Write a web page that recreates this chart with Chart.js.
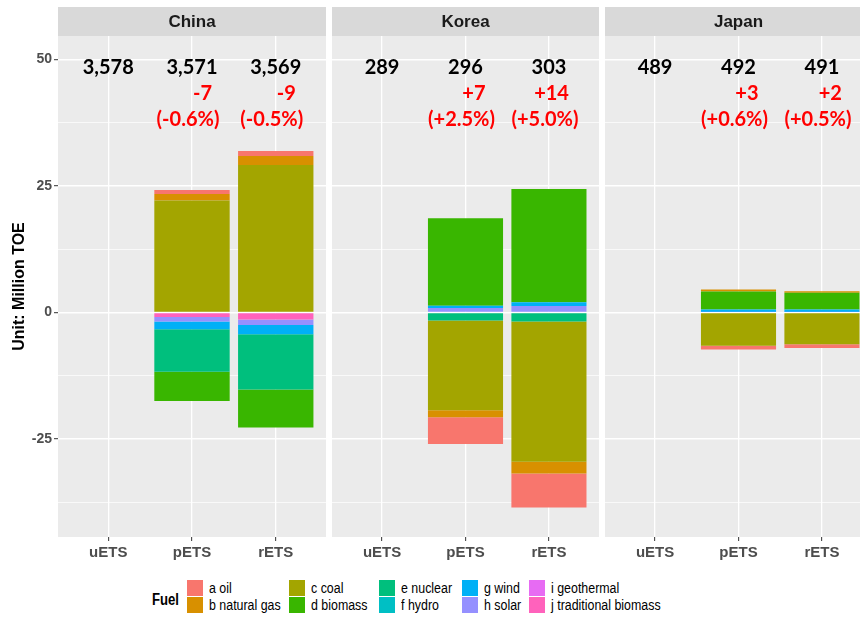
<!DOCTYPE html>
<html>
<head>
<meta charset="utf-8">
<script src="https://cdn.jsdelivr.net/npm/chart.js@4.4.1/dist/chart.umd.min.js"></script>
<style>
  html, body { margin: 0; padding: 0; background: #fff; overflow: hidden; }
  #wrap { position: relative; width: 860px; height: 620px; overflow: hidden;
          font-family: 'Liberation Sans', Arial, sans-serif; }
  .panel { position: absolute; top: 0; height: 575px; }
  #fuelTitle { position: absolute; left: 152px; top: 590px; font-weight: bold; font-size: 16px;
               transform: scaleX(0.82); transform-origin: left center; line-height: 20px; }
  #legend { position: absolute; left: 187px; top: 580px; display: grid;
            grid-template-columns: 102px 90px 83px 67px auto;
            grid-template-rows: 16.6px 16.6px; grid-auto-flow: column; row-gap: 0.2px; }
  .item { display: flex; align-items: center; height: 16.6px; white-space: nowrap; }
  .key { width: 16px; height: 16px; flex: none; }
  .lab { margin-left: 6px; font-size: 15.5px; color: #000; transform: scaleX(0.8);
         transform-origin: left center; line-height: 16px; }
</style>
</head>
<body>
<div id="wrap">
  <div class="panel" style="left:0;width:327px"><canvas id="c0"></canvas></div>
  <div class="panel" style="left:332px;width:267px"><canvas id="c1"></canvas></div>
  <div class="panel" style="left:605px;width:267px"><canvas id="c2"></canvas></div>
  <div id="fuelTitle">Fuel</div>
  <div id="legend"></div>
</div>
<script>
// facets and x categories
const regions = ['China', 'Korea', 'Japan'];
const scenarios = ['uETS', 'pETS', 'rETS'];

const fuels = ['a oil', 'b natural gas', 'c coal', 'd biomass', 'e nuclear',
               'f hydro', 'g wind', 'h solar', 'i geothermal', 'j traditional biomass'];
const fuelColors = ['#F8766D', '#D89000', '#A3A500', '#39B600', '#00BF7D',
                    '#00BFC4', '#00B0F6', '#9590FF', '#E76BF3', '#FF62BC'];

// change by fuel (Million TOE), one row per fuel, columns uETS / pETS / rETS
const chinaChange = [
  [0, 0.8, 1.0],
  [0, 1.3, 1.8],
  [0, 22.1, 29.1],
  [0, -5.8, -7.5],
  [0, -8.4, -10.9],
  [0, 0, 0],
  [0, -1.5, -1.8],
  [0, -0.9, -1.1],
  [0, 0, 0],
  [0, -0.9, -1.4]
];
const koreaChange = [
  [0, -5.3, -6.7],
  [0, -1.4, -2.3],
  [0, -17.7, -27.7],
  [0, 17.3, 22.4],
  [0, -1.6, -1.8],
  [0, 0, 0],
  [0, 0.4, 0.75],
  [0, 0.9, 1.25],
  [0, 0, 0],
  [0, 0, 0]
];
const japanChange = [
  [0, -0.7, -0.7],
  [0, 0.4, 0.3],
  [0, -6.6, -6.3],
  [0, 3.55, 3.3],
  [0, 0, 0],
  [0, 0, 0],
  [0, 0.5, 0.5],
  [0, 0.1, 0.1],
  [0, 0, 0],
  [0, 0, 0]
];

// totals and differences printed on top of each facet
const chinaTotal = [3578, 3571, 3569];
const koreaTotal = [289, 296, 303];
const japanTotal = [489, 492, 491];
const chinaDiff = [null, -7, -9];
const koreaDiff = [null, 7, 14];
const japanDiff = [null, 3, 2];
const chinaPct = [null, -0.6, -0.5];
const koreaPct = [null, 2.5, 5.0];
const japanPct = [null, 0.6, 0.5];

const yTicks = [-37.5, -25, -12.5, 0, 12.5, 25, 37.5, 50];

const changes = [chinaChange, koreaChange, japanChange];
const totals = [chinaTotal, koreaTotal, japanTotal];
const diffs = [chinaDiff, koreaDiff, japanDiff];
const pcts = [chinaPct, koreaPct, japanPct];

const signed = v => (v > 0 ? '+' : '') + v;
const fmtPct = v => '(' + (v > 0 ? '+' : '') + v.toFixed(1) + '%)';
const isMajor = v => v % 25 === 0;
const FONT = '"Liberation Sans", Arial, sans-serif';

function makeChart(k) {
  const rows = changes[k];
  // ggplot puts the last level next to zero, Chart.js stacks the first dataset there
  const datasets = fuels.map((f, i) => ({
    label: f,
    data: rows[i].map((v, j) => ({ x: j + 1, y: v })),
    backgroundColor: fuelColors[i],
    borderWidth: 0,
    categoryPercentage: 1,
    barPercentage: 0.9
  })).reverse();

  // grey panel + facet strip
  const panelBg = {
    id: 'panelBg',
    beforeDraw(chart) {
      const { ctx, chartArea: a } = chart;
      ctx.save();
      ctx.fillStyle = '#EBEBEB';
      ctx.fillRect(a.left, a.top, a.right - a.left, a.bottom - a.top);
      ctx.fillStyle = '#D9D9D9';
      ctx.fillRect(a.left, 7, a.right - a.left, a.top - 7);
      ctx.fillStyle = '#1A1A1A';
      ctx.font = 'bold 17px ' + FONT;
      ctx.textAlign = 'center';
      ctx.textBaseline = 'middle';
      ctx.fillText(regions[k], (a.left + a.right) / 2, (7 + a.top) / 2 + 1);
      ctx.restore();
    }
  };

  const labels = {
    id: 'labels',
    afterDatasetsDraw(chart) {
      const { ctx, scales: { x, y } } = chart;
      ctx.save();
      ctx.font = 'bold 20px Lato, "Open Sans", sans-serif';
      ctx.textBaseline = 'middle';
      scenarios.forEach((s, j) => {
        const cx = x.getPixelForValue(j + 1);
        ctx.fillStyle = '#000';
        ctx.textAlign = 'center';
        ctx.fillText(totals[k][j].toLocaleString('en-US'), cx, y.getPixelForValue(48.4));
        if (diffs[k][j] === null) return;
        ctx.fillStyle = '#FF0000';
        ctx.textAlign = 'right';
        ctx.fillText(signed(diffs[k][j]), cx + 20, y.getPixelForValue(43.2));
        ctx.textAlign = 'center';
        ctx.fillText(fmtPct(pcts[k][j]), cx - 4, y.getPixelForValue(38.1));
      });
      ctx.restore();
    }
  };

  const first = k === 0;

  return new Chart(document.getElementById('c' + k), {
    type: 'bar',
    data: { datasets },
    plugins: [panelBg, labels],
    options: {
      responsive: true,
      maintainAspectRatio: false,
      animation: false,
      layout: { padding: { top: 36, right: first ? 1 : 0, left: 0, bottom: 0 } },
      plugins: { legend: { display: false }, tooltip: { enabled: false } },
      scales: {
        x: {
          type: 'linear',
          stacked: true,
          min: 0.4,
          max: 3.6,
          offset: false,
          afterBuildTicks: sc => { sc.ticks = scenarios.map((s, j) => ({ value: j + 1 })); },
          afterFit: sc => { sc.height = 38; },
          border: { display: false },
          grid: { offset: false, color: '#FFFFFF', lineWidth: 1.3, tickColor: '#333333',
                  tickLength: 4, tickWidth: 1 },
          ticks: {
            autoSkip: false,
            maxRotation: 0,
            padding: 3,
            color: '#4D4D4D',
            font: { family: FONT, size: 15, weight: 'bold' },
            callback: v => scenarios[v - 1]
          }
        },
        y: {
          stacked: true,
          min: -44.35,
          max: 54.6,
          afterBuildTicks: sc => { sc.ticks = yTicks.map(v => ({ value: v })); },
          afterFit: sc => { sc.width = first ? 58 : 0; },
          border: { display: false },
          title: {
            display: first,
            text: 'Unit: Million TOE',
            color: '#000',
            padding: { top: 10, bottom: 0 },
            font: { family: FONT, size: 16, weight: 'bold' }
          },
          grid: {
            color: '#FFFFFF',
            lineWidth: c => isMajor(c.tick.value) ? 1.4 : 0.7,
            drawTicks: first,
            tickColor: c => isMajor(c.tick.value) ? '#333333' : 'rgba(0,0,0,0)',
            tickLength: 4,
            tickWidth: 1
          },
          ticks: {
            display: first,
            autoSkip: false,
            padding: 2,
            color: '#4D4D4D',
            font: { family: FONT, size: 14, weight: 'bold' },
            callback: v => isMajor(v) ? String(v) : ''
          }
        }
      }
    }
  });
}

regions.forEach((r, k) => makeChart(k));

// legend in ggplot order: two rows, filled column by column
const legend = document.getElementById('legend');
fuels.forEach((f, i) => {
  const item = document.createElement('div');
  item.className = 'item';
  item.innerHTML = '<div class="key" style="background:' + fuelColors[i] + '"></div><span class="lab">' + f + '</span>';
  legend.appendChild(item);
});
</script>
</body>
</html>
